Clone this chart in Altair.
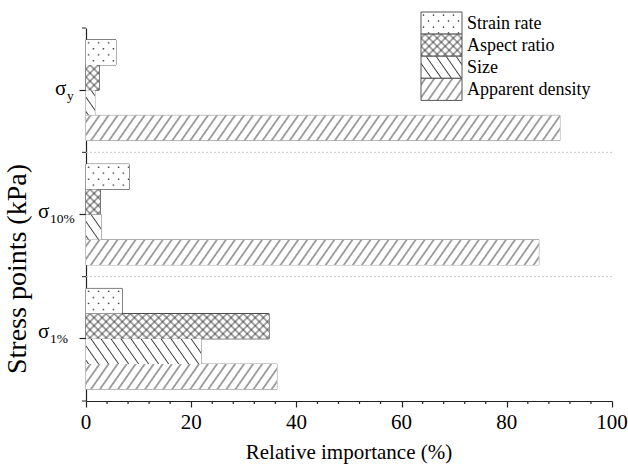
import base64

import altair as alt
import pandas as pd

# ---- data ----------------------------------------------------------------
stress_points = ["σy", "σ10%", "σ1%"]
point_subscripts = ["y", "10%", "1%"]
factors = ["Strain rate", "Aspect ratio", "Size", "Apparent density"]
strain_rate = [5.7, 8.2, 6.9]
aspect_ratio = [2.5, 2.7, 34.8]
size_factor = [1.7, 2.9, 21.9]
apparent_density = [90.1, 86.1, 36.3]
major_ticks = [0, 20, 40, 60, 80, 100]
minor_ticks = [v for v in range(0, 101, 4) if v % 20]
x_title = "Relative importance (%)"
y_title = "Stress points (kPa)"

SERIF = "Liberation Serif"
INK = "#222222"
W, H = 526, 373


# ---- hatch patterns as small stretchable SVG images -----------------------
def pattern_uri(pattern):
    svg = ('<svg xmlns="http://www.w3.org/2000/svg" width="100%" height="100%">'
           f'<defs>{pattern}</defs>'
           '<rect width="100%" height="100%" fill="#ffffff"/>'
           '<rect width="100%" height="100%" fill="url(#p)"/></svg>')
    return "data:image/svg+xml;base64," + base64.b64encode(svg.encode()).decode()


def stripes(spacing, angle, color="#333333", width=0.9):
    return (f'<pattern id="p" width="{spacing}" height="{spacing}" '
            f'patternUnits="userSpaceOnUse" patternTransform="rotate({angle})">'
            f'<line x1="{spacing / 2}" y1="0" x2="{spacing / 2}" y2="{spacing}" '
            f'stroke="{color}" stroke-width="{width}"/></pattern>')


def crosshatch(spacing, color="#222222", width=0.8):
    h = spacing / 2
    return (f'<pattern id="p" width="{spacing}" height="{spacing}" '
            f'patternUnits="userSpaceOnUse" patternTransform="rotate(45)">'
            f'<path d="M0,{h} H{spacing} M{h},0 V{spacing}" stroke="{color}" '
            f'stroke-width="{width}"/></pattern>')


def dots(color="#111111"):
    return ('<pattern id="p" width="10" height="12" patternUnits="userSpaceOnUse">'
            f'<circle cx="2.5" cy="3" r="0.8" fill="{color}"/>'
            f'<circle cx="7.5" cy="9" r="0.8" fill="{color}"/></pattern>')


fills = [
    pattern_uri(dots()),
    pattern_uri(crosshatch(5.7)),
    pattern_uri(stripes(8.2, -35)),
    pattern_uri(stripes(7.4, 35)),
]
outline_colors = ["#555555", "#333333", "#999999", "#999999"]

series = [strain_rate, aspect_ratio, size_factor, apparent_density]
rows = []
for f, fill, vals in zip(factors, fills, series):
    for g, v in zip(stress_points, vals):
        rows.append({"group": g, "factor": f, "value": v, "img": fill})
df = pd.DataFrame(rows)

groups_df = pd.DataFrame({"group": stress_points, "sub": point_subscripts})
legend_df = pd.DataFrame({"factor": factors, "img": fills})
minor_df = pd.DataFrame({"tick": minor_ticks})
major_df = pd.DataFrame({"tick": major_ticks})

y_scale = alt.Scale(domain=stress_points, paddingInner=0, paddingOuter=0)
offset_scale = alt.Scale(domain=factors, paddingInner=0, paddingOuter=0.467)
x_scale = alt.Scale(domain=[0, 100], nice=False)

# axes draw only lines and ticks; their texts are text marks below
y_axis = alt.Axis(
    title=None, labels=False, grid=False,
    tickSize=7, tickColor=INK, tickWidth=1.2, domainColor=INK, domainWidth=1.2,
)
x_axis = alt.Axis(
    title=None, labels=False, values=major_ticks, grid=False,
    tickSize=6, tickColor=INK, tickWidth=1.2, domainColor=INK, domainWidth=1.2,
)

# bar outlines; this layer defines both axes
bar_edges = alt.Chart(df).mark_bar(filled=False, strokeWidth=1).encode(
    x=alt.X("value:Q", scale=x_scale, axis=x_axis, stack=None),
    y=alt.Y("group:N", scale=y_scale, axis=y_axis),
    yOffset=alt.YOffset("factor:N", scale=offset_scale),
    stroke=alt.Stroke("factor:N", scale=alt.Scale(domain=factors, range=outline_colors),
                      legend=None),
)

# patterned bar faces
bar_faces = alt.Chart(df).mark_image(aspect=False).encode(
    x=alt.X("value:Q", scale=x_scale, stack=None),
    x2=alt.X2Datum(0),
    y=alt.Y("group:N", scale=y_scale),
    yOffset=alt.YOffset("factor:N", scale=offset_scale),
    url="img:N",
)

# minor ticks on the x axis
x_minor = alt.Chart(minor_df).mark_rule(color=INK, strokeWidth=1.2).encode(
    x=alt.X("tick:Q", scale=x_scale),
    y=alt.value(H), y2=alt.value(H + 3),
)

# x tick labels
x_labels = alt.Chart(major_df).mark_text(
    align="center", baseline="alphabetic", fontSize=21, font=SERIF, color="black"
).encode(
    x=alt.X("tick:Q", scale=x_scale),
    y=alt.value(H + 28),
    text="tick:Q",
)

# axis titles
titles_df = pd.DataFrame({"x_title": [x_title], "y_title": [y_title]})
x_title_mark = alt.Chart(titles_df).mark_text(
    align="center", baseline="alphabetic", fontSize=21, font=SERIF, color="black"
).encode(x=alt.value(W / 2), y=alt.value(H + 58), text="x_title:N")
y_title_mark = alt.Chart(titles_df).mark_text(
    align="center", baseline="middle", fontSize=28, font=SERIF, color="black", angle=270
).encode(x=alt.value(-68), y=alt.value(241), text="y_title:N")

# dotted separators between stress points
separators = alt.Chart(groups_df).transform_filter(
    alt.datum.group != stress_points[0]
).mark_rule(color="#c8c8c8", strokeDash=[2, 2], strokeWidth=1).encode(
    x=alt.value(0), x2=alt.value(W),
    y=alt.Y("group:N", scale=y_scale, bandPosition=0),
)

# short minor ticks at group boundaries on the y axis
minor_top = alt.Chart(groups_df).mark_rule(color=INK, strokeWidth=1).encode(
    x=alt.value(0), x2=alt.value(-4),
    y=alt.Y("group:N", scale=y_scale, bandPosition=0),
)
minor_bottom = alt.Chart(groups_df).transform_filter(
    alt.datum.group == stress_points[-1]
).mark_rule(color=INK, strokeWidth=1).encode(
    x=alt.value(0), x2=alt.value(-4),
    y=alt.Y("group:N", scale=y_scale, bandPosition=1),
)

# y tick labels: sigma with a subscript
label_nudge = {"σy": (-31, 5), "σ10%": (-48, 3), "σ1%": (-48, -1)}
label_layers = []
for g in stress_points:
    lx, ly = label_nudge[g]
    base = alt.Chart(groups_df).transform_filter(alt.datum.group == g)
    label_layers.append(
        base.mark_text(align="left", baseline="alphabetic", fontSize=21,
                       font=SERIF, color="black", dy=ly).encode(
            x=alt.value(lx),
            y=alt.Y("group:N", scale=y_scale),
            text=alt.value("σ"),
        )
    )
    label_layers.append(
        base.mark_text(align="left", baseline="alphabetic", fontSize=13.5,
                       font=SERIF, color="black", dy=ly + 5).encode(
            x=alt.value(lx + 12),
            y=alt.Y("group:N", scale=y_scale),
            text="sub:N",
        )
    )

# legend drawn inside the plot, top right
LEG_X0, LEG_X1, LEG_TOP, LEG_ROW = 335, 376, -16, 22.1
legend_layers = []
for i, f in enumerate(factors):
    top, bottom = LEG_TOP + i * LEG_ROW, LEG_TOP + (i + 1) * LEG_ROW
    item = alt.Chart(legend_df).transform_filter(alt.datum.factor == f)
    legend_layers += [
        item.mark_image(aspect=False).encode(
            x=alt.value(LEG_X0), x2=alt.value(LEG_X1),
            y=alt.value(top), y2=alt.value(bottom), url="img:N",
        ),
        item.mark_rect(filled=False, stroke="#555555", strokeWidth=1).encode(
            x=alt.value(LEG_X0), x2=alt.value(LEG_X1),
            y=alt.value(top), y2=alt.value(bottom),
        ),
        item.mark_text(align="left", baseline="middle", fontSize=18, font=SERIF,
                       color="black", dy=1).encode(
            x=alt.value(LEG_X1 + 5), y=alt.value((top + bottom) / 2), text="factor:N",
        ),
    ]

chart = alt.layer(
    bar_edges, bar_faces, x_minor, x_labels, x_title_mark, y_title_mark,
    separators, minor_top, minor_bottom, *label_layers, *legend_layers,
).properties(
    width=W, height=H,
    autosize=alt.AutoSizeParams(type="none"),
    padding={"left": 86, "top": 28, "right": 16, "bottom": 69},
).configure(
    font=SERIF,
).configure_view(
    stroke=None,
)

chart.save("out.html", embed_options={"renderer": "svg", "actions": False})
